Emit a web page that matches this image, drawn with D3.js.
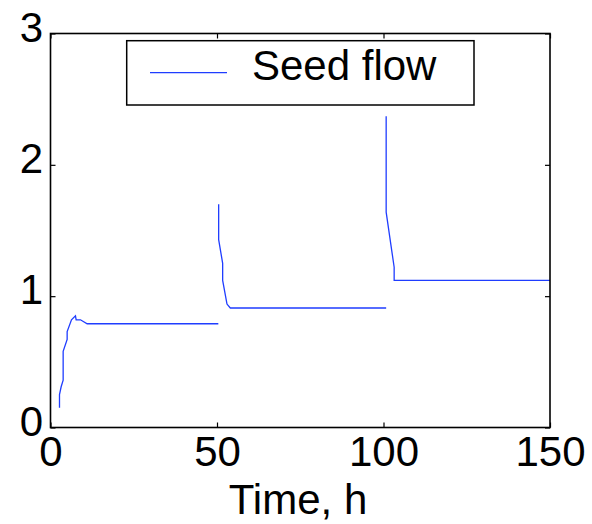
<!DOCTYPE html>
<html>
<head>
<meta charset="utf-8">
<script src="https://cdn.jsdelivr.net/npm/d3@7"></script>
<style>
  html, body { margin: 0; padding: 0; background: #fff; }
  svg { display: block; }
  text { font-family: "Liberation Sans", Arial, Helvetica, sans-serif; fill: #000; }
</style>
</head>
<body>
<svg id="chart" width="592" height="524"></svg>
<script>
// ---- data (null = gap between feeding periods) ----
const timeH = [2.7, 2.7, 3.2, 3.8, 3.8, 5.0, 5.0, 6.3, 7.5, 7.7, 9.0, 11.0, 50.4,
               null,
               50.5, 50.5, 51.7, 51.7, 53.0, 54.0, 100.8,
               null,
               100.8, 100.8, 103.2, 103.2, 150];
const seedFlow = [0.15, 0.25, 0.31, 0.36, 0.58, 0.67, 0.73, 0.82, 0.85, 0.82, 0.82, 0.79, 0.79,
                  null,
                  1.70, 1.43, 1.25, 1.12, 0.94, 0.91, 0.91,
                  null,
                  2.37, 1.64, 1.22, 1.12, 1.12];
const xTicks = [0, 50, 100, 150];
const yTicks = [0, 1, 2, 3];
const xLabel = "Time, h";
const seriesName = "Seed flow";

const points = timeH.map((t, i) => ({ t: t, v: seedFlow[i] }));

const svg = d3.select("#chart");
const L = 50.5, R = 550, T = 33.5, B = 427.5;
const x = d3.scaleLinear().domain([0, 150]).range([L, R]);
const y = d3.scaleLinear().domain([0, 3]).range([B, T]);
const lineColor = "#1f3dff";
const fontSize = 42;

// line
const line = d3.line()
  .defined(d => d.t !== null && d.v !== null)
  .x(d => x(d.t)).y(d => y(d.v));
svg.append("path").datum(points)
  .attr("d", line).attr("fill", "none")
  .attr("stroke", lineColor).attr("stroke-width", 1.3);

// axes with inward ticks
const tl = 5;
const bottomAxis = d3.axisBottom(x).tickValues(xTicks).tickSize(-tl).tickPadding(10).tickFormat(d3.format("d"));
const topAxis = d3.axisTop(x).tickValues(xTicks).tickSize(-tl).tickFormat("");
const leftAxis = d3.axisLeft(y).tickValues(yTicks).tickSize(-tl).tickPadding(8).tickFormat(d3.format("d"));
const rightAxis = d3.axisRight(y).tickValues(yTicks).tickSize(-tl).tickFormat("");

function styleAxis(g) {
  g.select(".domain").remove();
  g.selectAll(".tick line").attr("stroke", "#000").attr("stroke-width", 1.2);
  g.selectAll("text").style("font-size", fontSize + "px")
    .style("font-family", '"Liberation Sans", Arial, Helvetica, sans-serif').attr("fill", "#000");
}

const gB = svg.append("g").attr("transform", `translate(0,${B})`).call(bottomAxis);
styleAxis(gB);
gB.selectAll("text").attr("dy", null).attr("y", 466 - B).attr("dominant-baseline", "auto");

svg.append("g").attr("transform", `translate(0,${T})`).call(topAxis).call(styleAxis);

const gL = svg.append("g").attr("transform", `translate(${L},0)`).call(leftAxis);
styleAxis(gL);
gL.selectAll("text").attr("dy", null).attr("x", 43 - L).attr("y", 7.5);

svg.append("g").attr("transform", `translate(${R},0)`).call(rightAxis).call(styleAxis);

// frame
svg.append("rect").attr("x", L).attr("y", T).attr("width", R - L).attr("height", B - T)
  .attr("fill", "none").attr("stroke", "#000").attr("stroke-width", 1.6);

// x label
svg.append("text").attr("x", 298).attr("y", 514).attr("text-anchor", "middle")
  .style("font-size", fontSize + "px").text(xLabel);

// legend
const lg = svg.append("g");
lg.append("rect").attr("x", 126.7).attr("y", 40.7).attr("width", 474 - 126.7).attr("height", 105 - 40.7)
  .attr("fill", "#fff").attr("stroke", "#000").attr("stroke-width", 1.5);
lg.append("line").attr("x1", 150).attr("x2", 227).attr("y1", 72.7).attr("y2", 72.7)
  .attr("stroke", lineColor).attr("stroke-width", 1.3);
lg.append("text").attr("x", 252).attr("y", 80).style("font-size", fontSize + "px").text(seriesName);
</script>
</body>
</html>
